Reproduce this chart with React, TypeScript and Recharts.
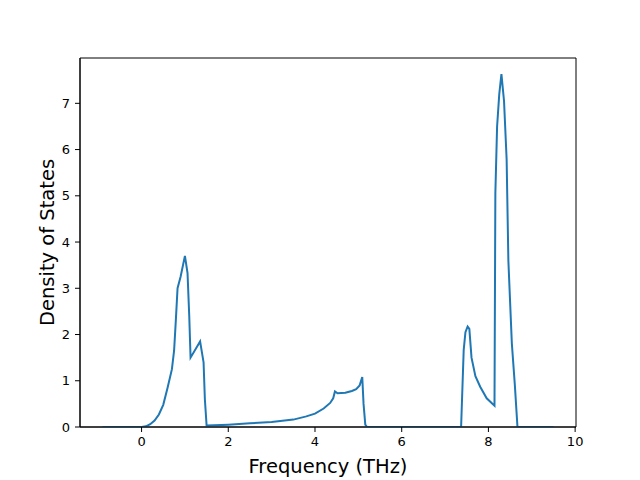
import { LineChart, Line, XAxis, YAxis, ReferenceArea } from 'recharts'

// phonon DOS
const freq = [
  -0.9, 0.0, 0.1, 0.2, 0.3, 0.4, 0.5, 0.6, 0.7, 0.75, 0.79, 0.83, 0.9, 1.0, 1.06, 1.1, 1.13, 1.35, 1.43, 1.46, 1.5,
  2.0, 2.5, 3.0, 3.5, 3.8, 4.0, 4.2, 4.35, 4.42, 4.46, 4.52, 4.7, 4.85, 4.95, 5.03, 5.09, 5.12, 5.16, 5.2,
  7.37, 7.43, 7.47, 7.52, 7.56, 7.61, 7.7, 7.81, 7.96, 8.14, 8.16, 8.2, 8.25, 8.3, 8.36, 8.42, 8.46, 8.54, 8.61, 8.67, 9.5,
]
const dos = [
  0, 0, 0.015, 0.06, 0.14, 0.27, 0.48, 0.85, 1.25, 1.65, 2.3, 3.0, 3.25, 3.7, 3.33, 2.39, 1.5, 1.85, 1.4, 0.6, 0.03,
  0.05, 0.08, 0.11, 0.16, 0.23, 0.29, 0.4, 0.52, 0.62, 0.77, 0.73, 0.74, 0.78, 0.82, 0.9, 1.08, 0.5, 0.05, 0,
  0, 1.67, 2.05, 2.17, 2.12, 1.5, 1.1, 0.87, 0.62, 0.46, 5.06, 6.5, 7.2, 7.63, 7.05, 5.79, 3.6, 1.81, 0.9, 0, 0,
]
const xTicks = [0, 2, 4, 6, 8, 10]
const yTicks = [0, 1, 2, 3, 4, 5, 6, 7]
const xDomain = [-1.42, 10.02]
const yDomain = [0, 7.98]

const data = freq.map((f, i) => ({ f, d: dos[i] }))

const font = 'DejaVu Sans'
const tickStyle = { fontSize: 13, fill: '#000', fontFamily: font }

export default function App() {
  return (
    <div style={{ position: 'absolute', left: 0, top: 0, width: 640, height: 480, background: '#fff' }}>
      <LineChart width={640} height={480} data={data} margin={{ top: 58, right: 64, left: 0, bottom: 0 }}>
        <XAxis
          dataKey="f"
          type="number"
          domain={xDomain}
          ticks={xTicks}
          allowDataOverflow
          stroke="#000"
          tickSize={5}
          tickMargin={5}
          tick={tickStyle}
          height={53}
          label={{ value: 'Frequency (THz)', position: 'insideBottom', offset: 7, fontSize: 19.5, fill: '#000', fontFamily: font }}
        />
        <YAxis
          type="number"
          domain={yDomain}
          ticks={yTicks}
          allowDataOverflow
          stroke="#000"
          tickSize={5}
          tickMargin={5}
          tick={tickStyle}
          width={80}
          label={{ value: 'Density of States', angle: -90, position: 'insideLeft', offset: 47, fontSize: 19.5, fill: '#000', fontFamily: font, style: { textAnchor: 'middle' } }}
        />
        <Line type="linear" dataKey="d" stroke="#1f77b4" strokeWidth={2} dot={false} isAnimationActive={false} />
        {/* frame like matplotlib spines */}
        <ReferenceArea x1={xDomain[0]} x2={xDomain[1]} y1={yDomain[0]} y2={yDomain[1]} fill="none" stroke="#000" strokeWidth={1} />
      </LineChart>
    </div>
  )
}
